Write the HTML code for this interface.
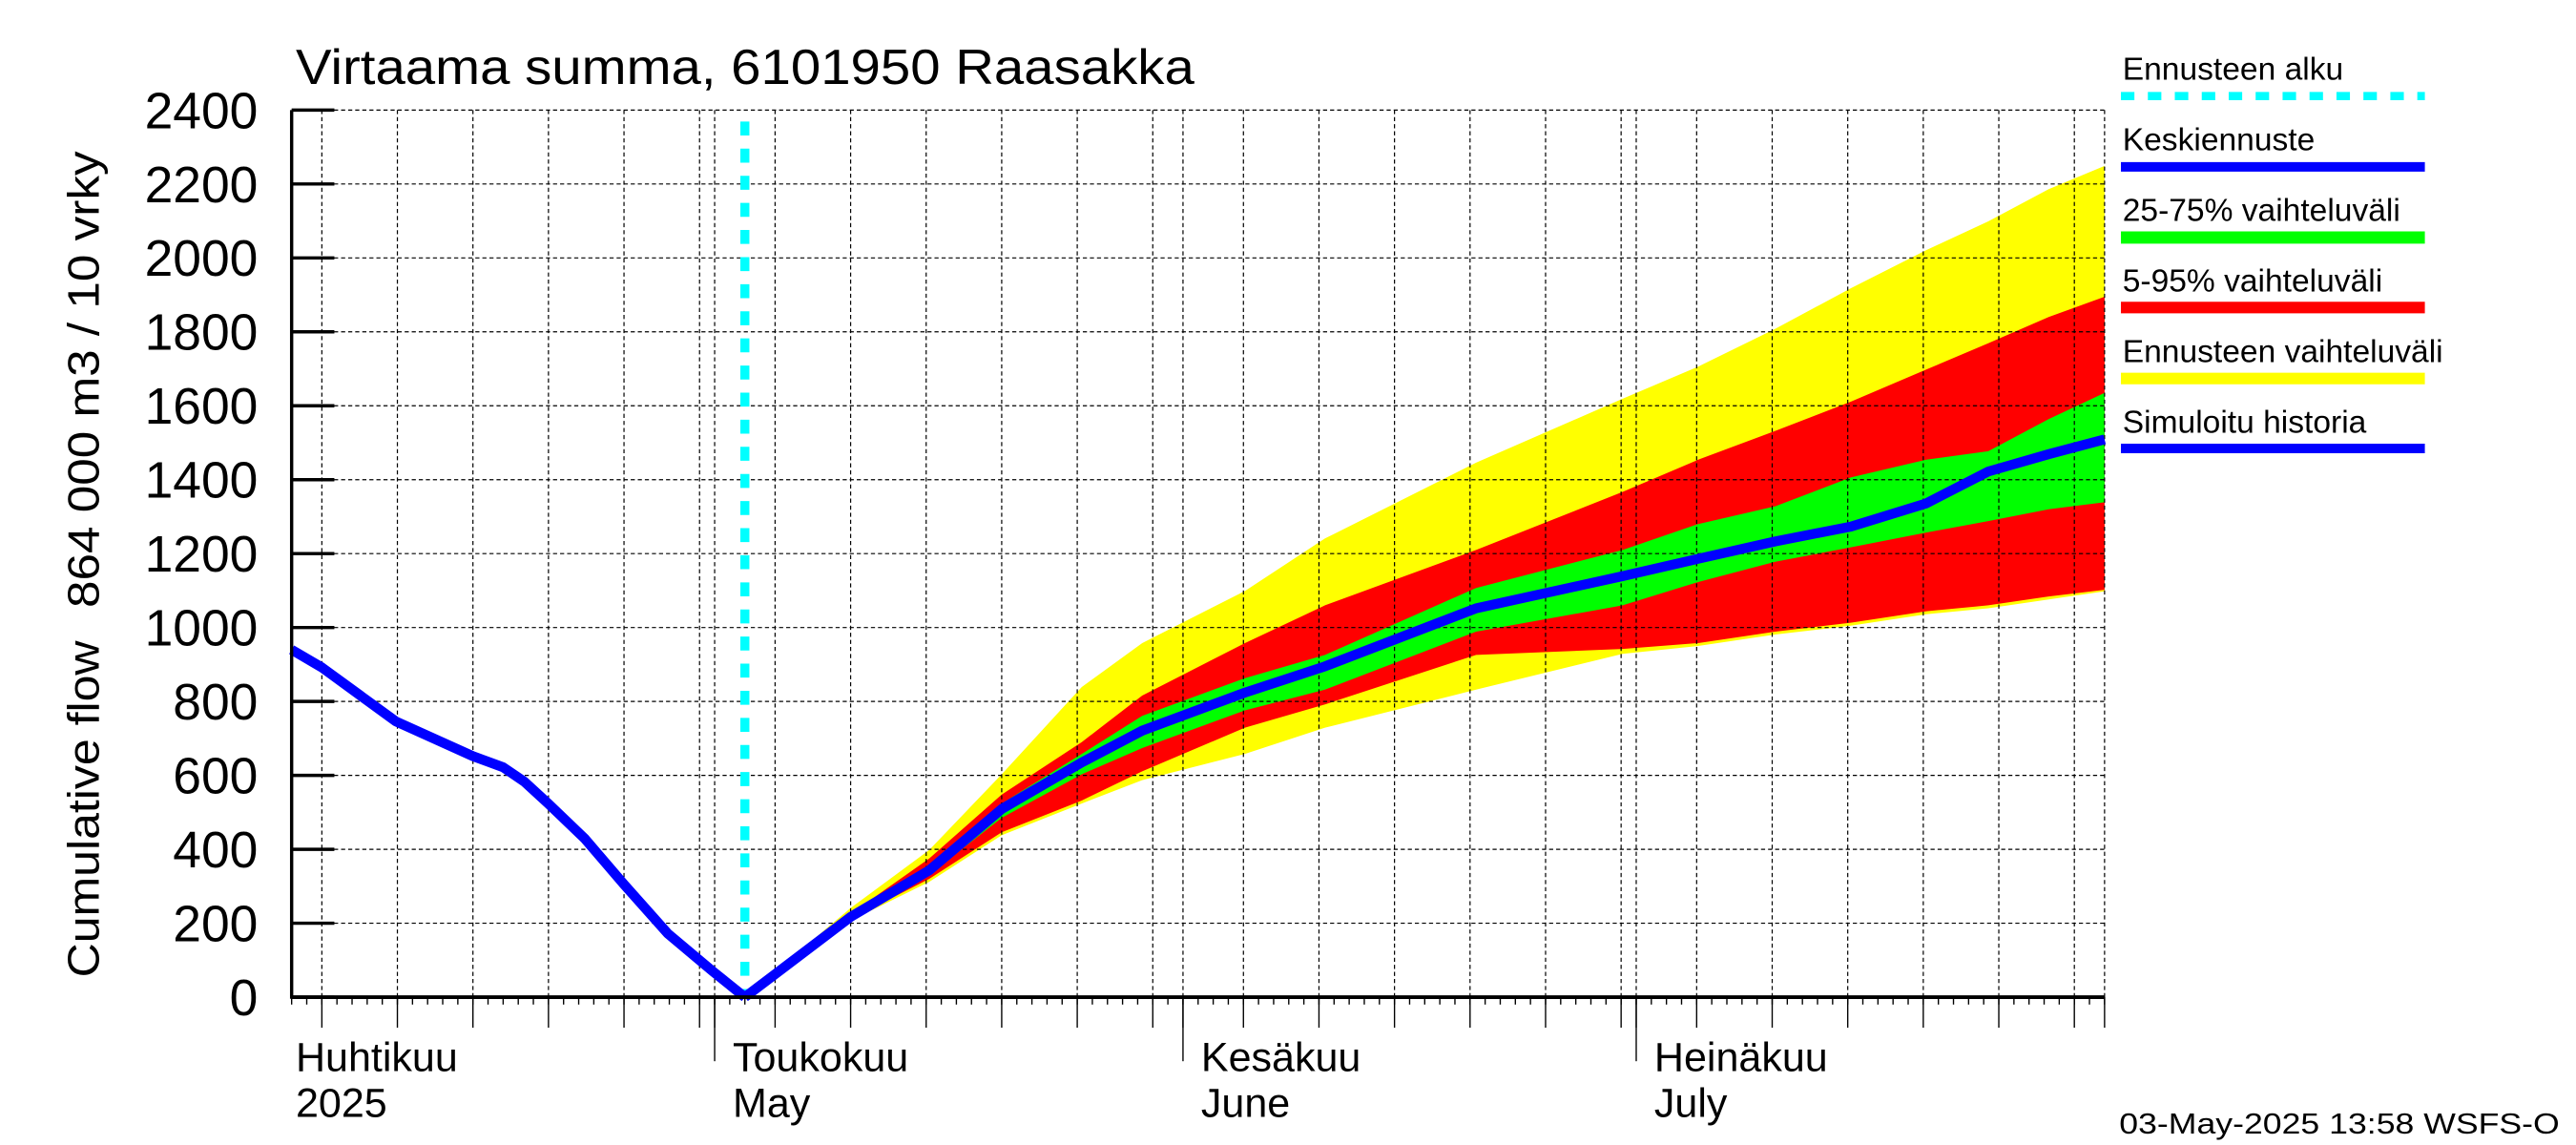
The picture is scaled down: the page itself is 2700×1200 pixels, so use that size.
<!DOCTYPE html>
<html><head><meta charset="utf-8"><style>
html,body{margin:0;padding:0;background:#fff;}
svg{display:block;font-family:"Liberation Sans",sans-serif;}
</style></head><body>
<svg id="chart" width="2700" height="1200" viewBox="0 0 1568 697" preserveAspectRatio="none" xmlns="http://www.w3.org/2000/svg">
<rect x="0" y="0" width="1568" height="697" fill="#fff"/>
<g id="bands"></g>
<g id="grid"></g>
<g id="lines"></g>
<g id="axes"></g>
<text x="180" y="51" font-size="30" textLength="547" lengthAdjust="spacingAndGlyphs">Virtaama summa, 6101950 Raasakka</text>
<text transform="translate(60,370) rotate(-90)" font-size="27" textLength="278" lengthAdjust="spacingAndGlyphs">864 000 m3 / 10 vrky</text>
<text transform="translate(60,595) rotate(-90)" font-size="27" textLength="205" lengthAdjust="spacingAndGlyphs">Cumulative flow</text>
<g font-size="19.5">
<text x="1292" y="48.5">Ennusteen alku</text>
<line x1="1291" y1="58.5" x2="1476" y2="58.5" stroke="#00ffff" stroke-width="5" stroke-dasharray="8.2,8.2"/>
<text x="1292" y="91.5">Keskiennuste</text>
<line x1="1291" y1="101.6" x2="1476" y2="101.6" stroke="#0000ff" stroke-width="5.8"/>
<text x="1292" y="134.5">25-75% vaihteluväli</text>
<line x1="1291" y1="144.6" x2="1476" y2="144.6" stroke="#00ff00" stroke-width="7.5"/>
<text x="1292" y="177.5">5-95% vaihteluväli</text>
<line x1="1291" y1="187.2" x2="1476" y2="187.2" stroke="#ff0000" stroke-width="7"/>
<text x="1292" y="220.5">Ennusteen vaihteluväli</text>
<line x1="1291" y1="230.4" x2="1476" y2="230.4" stroke="#ffff00" stroke-width="7"/>
<text x="1292" y="263.5">Simuloitu historia</text>
<line x1="1291" y1="273" x2="1476" y2="273" stroke="#0000ff" stroke-width="5.8"/>
</g>
<text x="1290" y="690" font-size="18" textLength="268" lengthAdjust="spacingAndGlyphs">03-May-2025 13:58 WSFS-O</text>
</svg>
<script>
// days relative to forecast start (3 May 2025)
const histDays = [-30, -28, -23.1, -18, -16, -14.6, -13, -10.6, -8, -5.1, -2.1, 0];
const histValues = [940, 892, 746, 652, 622, 583, 523, 429, 305, 172, 69, 0];
const fcDays = [0, 7, 12.2, 17, 22.3, 26.3, 33.1, 38.4, 48.4, 58.1, 63.1, 68.2, 73.2, 78.2, 82.3, 86.3, 90];
const rangeMax = [0, 241, 398, 603, 839, 958, 1099, 1241, 1446, 1619, 1706, 1808, 1918, 2021, 2099, 2186, 2249];
const p95 = [0, 225, 375, 548, 690, 816, 958, 1060, 1210, 1367, 1454, 1532, 1611, 1698, 1769, 1840, 1895];
const p75 = [0, 220, 359, 524, 658, 761, 863, 926, 1107, 1210, 1280, 1328, 1406, 1454, 1477, 1564, 1635];
const median = [0, 217, 343, 509, 635, 721, 824, 895, 1052, 1139, 1186, 1233, 1273, 1336, 1422, 1469, 1509];
const p25 = [0, 214, 331, 485, 603, 674, 776, 832, 989, 1060, 1123, 1178, 1217, 1257, 1288, 1320, 1339];
const p5 = [0, 211, 320, 446, 532, 611, 729, 792, 926, 942, 958, 989, 1013, 1044, 1060, 1084, 1102];
const rangeMin = [0, 207, 312, 438, 524, 587, 658, 729, 832, 929, 950, 981, 1005, 1036, 1052, 1076, 1098];
const yTicks = [0, 200, 400, 600, 800, 1000, 1200, 1400, 1600, 1800, 2000, 2200, 2400];
const gridDays = [-28, -23, -18, -13, -8, -3, -2, 2, 7, 12, 17, 22, 27, 29, 33, 38, 43, 48, 53, 58, 59, 63, 68, 73, 78, 83, 88, 90];
const monthDays = [-2, 29, 59];
const monthLabels = [["Toukokuu", "May"], ["Kesäkuu", "June"], ["Heinäkuu", "July"]];
const startDay = -30, endDay = 90, forecastDay = 0;

const NS = "http://www.w3.org/2000/svg";
const X0 = 453.4, PXD = 9.196, Y0 = 607, PXV = 0.225;
function xOf(d) { return X0 + d * PXD; }
function yOf(v) { return Y0 - v * PXV; }
function mk(tag, attrs, parent) {
  const e = document.createElementNS(NS, tag);
  for (const k in attrs) e.setAttribute(k, attrs[k]);
  parent.appendChild(e);
  return e;
}
function bandPath(upper, lower) {
  let d = "";
  fcDays.forEach((t, i) => { d += (i ? "L" : "M") + xOf(t).toFixed(2) + "," + yOf(upper[i]).toFixed(2); });
  for (let i = fcDays.length - 1; i >= 0; i--) d += "L" + xOf(fcDays[i]).toFixed(2) + "," + yOf(lower[i]).toFixed(2);
  return d + "Z";
}
function linePath(days, vals) {
  return days.map((t, i) => (i ? "L" : "M") + xOf(t).toFixed(2) + "," + yOf(vals[i]).toFixed(2)).join("");
}
const bands = document.getElementById("bands");
const grid = document.getElementById("grid");
const lines = document.getElementById("lines");
const axes = document.getElementById("axes");

let e;
e = mk("path", { d: bandPath(rangeMax, rangeMin), fill: "#ffff00" }, bands);


e = mk("path", { d: bandPath(p95, p5), fill: "#ff0000" }, bands);


e = mk("path", { d: bandPath(p75, p25), fill: "#00ff00" }, bands);



const xL = xOf(startDay), xR = xOf(endDay), yT = yOf(2400), yB = yOf(0);
yTicks.forEach(v => {
  if (v > 0) {
    const g = mk("line", { x1: xL, x2: xR, y1: yOf(v), y2: yOf(v), stroke: "#000", "stroke-width": 0.7, "stroke-dasharray": "2.5,1.8" }, grid);
    
    
  }
  const t = mk("line", { x1: xL, x2: xL + 26, y1: yOf(v), y2: yOf(v), stroke: "#000", "stroke-width": 2 }, axes);
  
  
  const l = mk("text", { x: 157, y: yOf(v) + 11, "text-anchor": "end", "font-size": 31 }, axes);
  l.textContent = v;
  
  
});
gridDays.forEach(d => {
  const g = mk("line", { x1: xOf(d), x2: xOf(d), y1: yT, y2: yB, stroke: "#000", "stroke-width": 0.7, "stroke-dasharray": "2.5,1.8" }, grid);
  
  
  const t = mk("line", { x1: xOf(d), x2: xOf(d), y1: yB, y2: yB + 18.6, stroke: "#000", "stroke-width": 0.8 }, axes);
  
  
});
for (let d = startDay; d <= endDay; d++) {
  const t = mk("line", { x1: xOf(d), x2: xOf(d), y1: yB, y2: yB + 4.5, stroke: "#000", "stroke-width": 0.8 }, axes);
  
  
}
monthDays.forEach((d, i) => {
  const t = mk("line", { x1: xOf(d), x2: xOf(d), y1: yB, y2: yB + 39, stroke: "#000", "stroke-width": 0.8 }, axes);
  
  
  const a = mk("text", { x: xOf(d) + 11, y: 652, "font-size": 25 }, axes);
  a.textContent = monthLabels[i][0];
  
  
  const b = mk("text", { x: xOf(d) + 11, y: 680, "font-size": 25 }, axes);
  b.textContent = monthLabels[i][1];
  
  
});
e = mk("text", { x: 180, y: 652, "font-size": 25 }, axes);
e.textContent = "Huhtikuu";


e = mk("text", { x: 180, y: 680, "font-size": 25 }, axes);
e.textContent = "2025";



e = mk("line", { x1: xOf(forecastDay), x2: xOf(forecastDay), y1: 74, y2: yB, stroke: "#00ffff", "stroke-width": 5.5, "stroke-dasharray": "8.5,8" }, lines);


e = mk("path", { d: linePath(histDays, histValues), fill: "none", stroke: "#0000ff", "stroke-width": 6, "stroke-linejoin": "round" }, lines);


e = mk("path", { d: linePath(fcDays, median), fill: "none", stroke: "#0000ff", "stroke-width": 6, "stroke-linejoin": "round" }, lines);



e = mk("line", { x1: xL, x2: xL, y1: yT, y2: yB + 1, stroke: "#000", "stroke-width": 2 }, axes);


e = mk("line", { x1: xL, x2: xR, y1: yB, y2: yB, stroke: "#000", "stroke-width": 2.2 }, axes);


</script>
</body></html>
